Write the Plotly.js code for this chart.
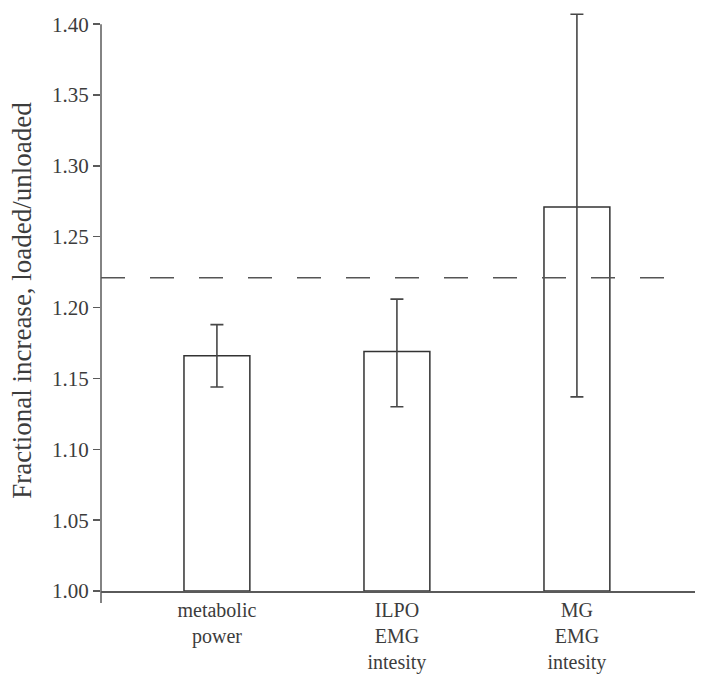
<!DOCTYPE html>
<html>
<head>
<meta charset="utf-8">
<script src="https://cdn.plot.ly/plotly-3.0.1.min.js"></script>
<style>html,body{margin:0;padding:0;background:#fff;}#chart{width:702px;height:681px;}</style>
</head>
<body>
<div id="chart"></div>
<script>
// Data
const categories = ["metabolic<br>power", "ILPO<br>EMG<br>intesity", "MG<br>EMG<br>intesity"];
const ratios = [1.166, 1.169, 1.271];
const errUpper = [1.188, 1.206, 1.407];
const errLower = [1.144, 1.130, 1.137];
const threshold = 1.221;
const yTickVals = [1.00, 1.05, 1.10, 1.15, 1.20, 1.25, 1.30, 1.35, 1.40];

const baseline = 1.0;
const axisTop = 1.40;
const ink = "#3c3c3c";
const axisCol = "#5a5a5a";
const serif = "Liberation Serif, Times New Roman, serif";

const trace = {
  type: "bar",
  x: [0, 1, 2],
  y: ratios.map(v => v - baseline),
  base: baseline,
  width: 0.366,
  marker: { color: "#ffffff", line: { color: "#333333", width: 1.5 } },
  error_y: {
    type: "data",
    symmetric: false,
    array: errUpper.map((u, i) => u - ratios[i]),
    arrayminus: errLower.map((l, i) => ratios[i] - l),
    color: "#474747",
    thickness: 1.6,
    width: 6.5
  },
  hoverinfo: "skip"
};

const layout = {
  width: 702,
  height: 681,
  margin: { l: 101, r: 7, t: 10, b: 90 },
  paper_bgcolor: "#ffffff",
  plot_bgcolor: "#ffffff",
  showlegend: false,
  font: { family: serif, color: ink, size: 21 },
  xaxis: {
    range: [-0.644, 2.656],
    tickvals: [0, 1, 2],
    ticktext: categories,
    ticks: "",
    showline: true,
    linecolor: axisCol,
    linewidth: 1.5,
    showgrid: false,
    zeroline: false,
    tickfont: { family: serif, size: 20, color: ink }
  },
  yaxis: {
    range: [1.0, 1.41],
    tickvals: yTickVals,
    tickformat: ".2f",
    ticks: "outside",
    ticklen: 7,
    tickwidth: 1.5,
    tickcolor: axisCol,
    showline: false,
    showgrid: false,
    zeroline: false,
    tickfont: { family: serif, size: 21, color: ink },
    title: { text: "Fractional increase, loaded/unloaded", font: { family: serif, size: 27, color: ink }, standoff: 12 }
  },
  shapes: [
    {
      type: "line", xref: "paper", yref: "y",
      x0: 0, x1: 0, y0: baseline, y1: axisTop,
      line: { color: axisCol, width: 1.5 }
    },
    {
      type: "line", xref: "paper", yref: "paper",
      x0: 0, x1: 0, y0: 0, y1: -0.0207,
      line: { color: axisCol, width: 1.5 }
    },
    {
      type: "line", xref: "paper", yref: "y",
      x0: 0, x1: 0.9495, y0: threshold, y1: threshold,
      line: { color: "#555555", width: 1.5, dash: "24px,25px" }
    }
  ]
};

Plotly.newPlot("chart", [trace], layout, { displayModeBar: false, staticPlot: true });
</script>
</body>
</html>
